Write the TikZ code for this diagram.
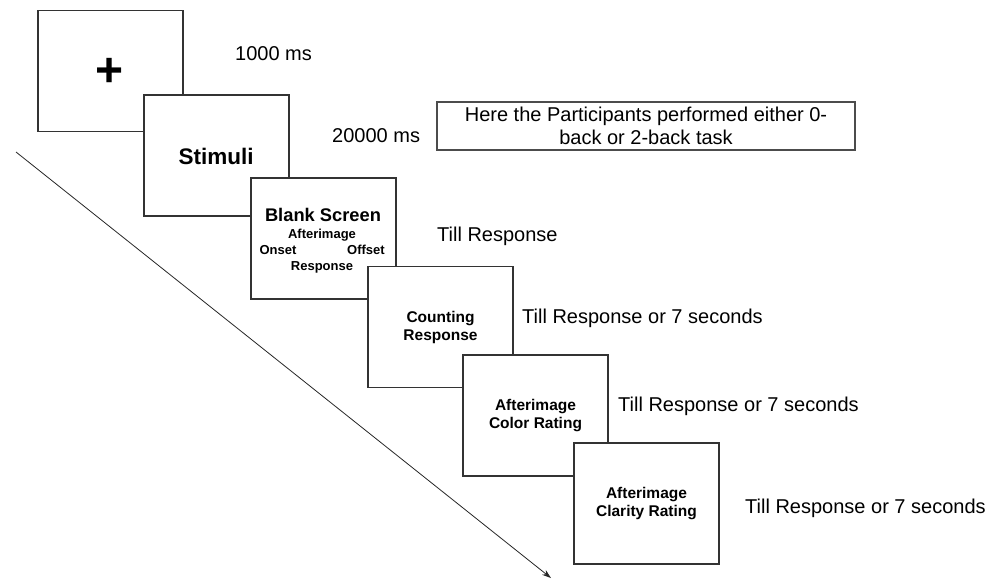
\documentclass[tikz,border=0pt]{standalone}
\usepackage{fontspec}
\setmainfont{Liberation Sans}
\usetikzlibrary{arrows.meta}
\begin{document}
\begin{tikzpicture}[x=1pt,y=-1pt,
  frame/.style={draw=black!80, line width=1.1pt, fill=white, minimum width=145pt,
    minimum height=121pt, inner sep=0pt, align=center,
    font=\bfseries\fontsize{15.5}{18}\selectfont},
  lbl/.style={anchor=base west, inner sep=0pt, font=\fontsize{20}{24}\selectfont},
  small/.style={anchor=base, inner sep=0pt, font=\bfseries\fontsize{13}{15}\selectfont},
  note/.style={draw=black!70, line width=1.1pt, minimum width=418pt, minimum height=48pt,
    inner sep=0pt, align=center, font=\fontsize{20}{23}\selectfont},
  timeline/.style={draw=black!85, line width=0.8pt, -{Stealth[length=9pt,width=6pt]}}]
\useasboundingbox (0,0) rectangle (1008,579);
% time arrow
\coordinate (ts) at (16,152);
\coordinate (te) at (551,578);
\draw[timeline] (ts) -- (te);
% screens
\node[frame] (fix) at (110.5,71) {};
\node[inner sep=0pt, font=\bfseries\fontsize{48}{48}\selectfont] (plus) at (110,72) {+};
\node[frame] (stim) at (216.5,155.5) {};
\node[anchor=base, inner sep=0pt, font=\bfseries\fontsize{22.5}{26}\selectfont] (stimt) at (216,164) {Stimuli};
\node[frame] (blank) at (323.5,238.5) {};
\node[anchor=base, inner sep=0pt, font=\bfseries\fontsize{18.3}{22}\selectfont] (blankt) at (323,221) {Blank Screen};
\node[small] (ai) at (322,238) {Afterimage};
\node[small] (on) at (278,254) {Onset};
\node[small] (off) at (366,254) {Offset};
\node[small] (resp) at (322,270) {Response};
\node[frame] (count) at (440.5,327) {Counting\\Response};
\node[frame] (color) at (535.5,415.5) {Afterimage\\Color Rating};
\node[frame] (clar) at (646.5,503.5) {Afterimage\\Clarity Rating};
% timing labels
\node[lbl] (t1) at (235,60) {1000 ms};
\node[lbl] (t2) at (332,142) {20000 ms};
\node[lbl] (t3) at (437,241) {Till Response};
\node[lbl] (t4) at (522,323) {Till Response or 7 seconds};
\node[lbl] (t5) at (618,411) {Till Response or 7 seconds};
\node[lbl] (t6) at (745,513) {Till Response or 7 seconds};
% note
\node[note] (task) at (646,126) {Here the Participants performed either 0-\\back or 2-back task};
\end{tikzpicture}
\end{document}
